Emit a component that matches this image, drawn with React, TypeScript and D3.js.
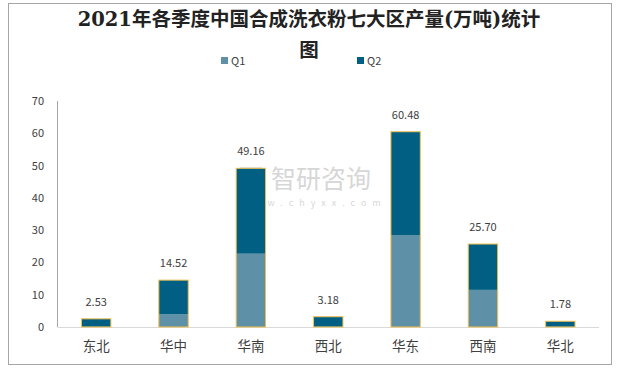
import React from "react";
import * as d3 from "d3";

const categories = ["东北", "华中", "华南", "西北", "华东", "西南", "华北"];
const q1Values = [0.05, 4.0, 22.7, 0.05, 28.5, 11.5, 0.05];
const totals = [2.53, 14.52, 49.16, 3.18, 60.48, 25.70, 1.78];
const q2Values = totals.map((t, i) => +(t - q1Values[i]).toFixed(2));
const yTicks = [0, 10, 20, 30, 40, 50, 60, 70];
const seriesNames = ["Q1", "Q2"];
const colors = ["#5E90A8", "#005F83"];

export default function App() {
  const W = 618, H = 369;
  const x = d3.scaleBand().domain(categories).range([57.5, 599]).paddingInner(0.62).paddingOuter(0.31);
  const y = d3.scaleLinear().domain([0, 70]).range([327, 101]);
  const rows = categories.map((c, i) => ({ cat: c, Q1: q1Values[i], Q2: q2Values[i] }));
  const stacked = d3.stack<any>().keys(seriesNames)(rows);
  const font = "'Noto Sans CJK SC', 'Liberation Sans', sans-serif";
  return (
    <svg width={W} height={H} style={{ position: "absolute", left: 0, top: 0, background: "#fff" }}>
      <rect x={8.5} y={3.5} width={603} height={361} fill="#fff" stroke="#A6A6A6" strokeWidth={1} />
      <text x={309} y={26} textAnchor="middle" fontFamily="'DejaVu Serif', 'Noto Sans CJK SC', serif" fontWeight="bold" fontSize={19.5} fill="#222">
        2021年各季度中国合成洗衣粉七大区产量(万吨)统计
      </text>
      <text x={309} y={57} textAnchor="middle" fontFamily="'DejaVu Serif', 'Noto Sans CJK SC', serif" fontWeight="bold" fontSize={19.5} fill="#222">
        图
      </text>
      {seriesNames.map((s, i) => (
        <g key={s} transform={`translate(${i === 0 ? 221 : 357},55)`}>
          <rect x={0} y={2} width={7} height={7} fill={colors[i]} />
          <text x={10} y={10} fontFamily={font} fontSize={11} fill="#404040">{s}</text>
        </g>
      ))}
      {/* watermark */}
      <g opacity={0.35}>
        <rect x={240} y={167} width={22} height={22} fill="#9FB6CC" />
        <text x={271} y={188} fontFamily={font} fontSize={25} fill="#8c8c8c">智研咨询</text>
        <text x={241} y={206} fontFamily={font} fontSize={9} letterSpacing={6} fill="#8c8c8c">www.chyxx.com</text>
      </g>
      <line x1={57.5} x2={57.5} y1={101} y2={327} stroke="#A6A6A6" />
      <line x1={57.5} x2={599} y1={327.5} y2={327.5} stroke="#D9D9D9" />
      {yTicks.map((t) => (
        <text key={t} x={44} y={y(t) + 4} textAnchor="end" fontFamily={font} fontSize={11} fill="#404040">{t}</text>
      ))}
      {stacked.map((layer, li) => (
        <g key={layer.key}>
          {layer.map((d, i) => (
            <rect key={i} x={x(categories[i])!} y={y(d[1])} width={x.bandwidth()} height={y(d[0]) - y(d[1])} fill={colors[li]} />
          ))}
        </g>
      ))}
      {totals.map((t, i) => (
        <rect key={"o" + i} x={x(categories[i])! } y={y(t)} width={x.bandwidth()} height={y(0) - y(t)} fill="none" stroke="#F2C04E" strokeWidth={1} />
      ))}
      {totals.map((t, i) => (
        <text key={"l" + i} x={x(categories[i])! + x.bandwidth() / 2} y={y(t) - 13} textAnchor="middle" fontFamily={font} fontSize={11} fill="#404040">{t.toFixed(2)}</text>
      ))}
      {categories.map((c) => (
        <text key={c} x={x(c)! + x.bandwidth() / 2} y={351} textAnchor="middle" fontFamily={font} fontSize={13.5} fill="#404040">{c}</text>
      ))}
    </svg>
  );
}
